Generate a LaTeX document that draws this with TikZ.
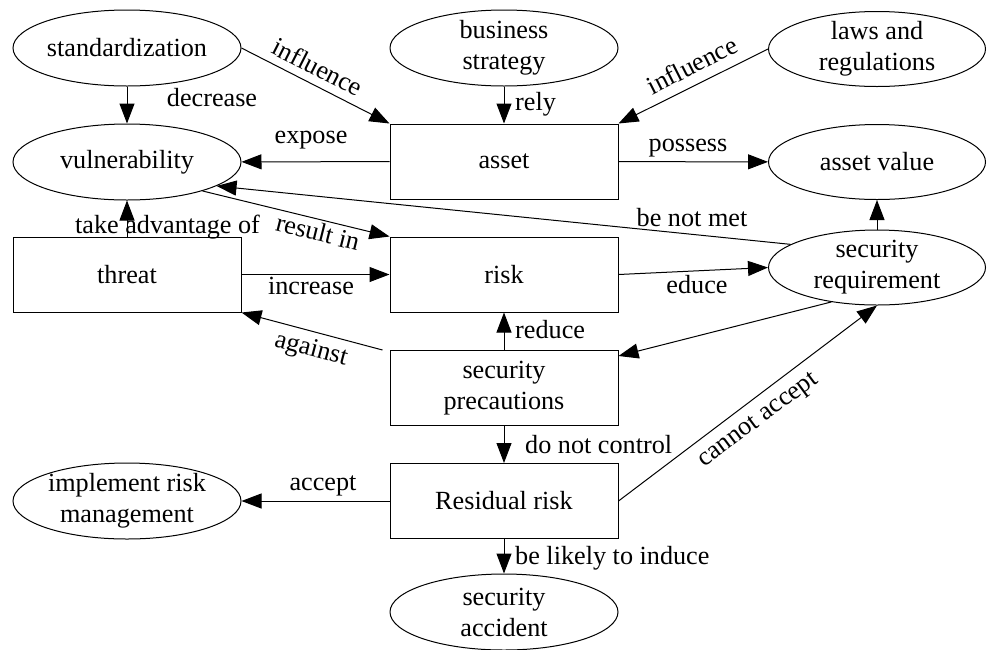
\documentclass[tikz,border=0pt]{standalone}
\usepackage{fontspec}
\setmainfont{Liberation Serif}
\usetikzlibrary{shapes.geometric,arrows.meta}
\begin{document}
\begin{tikzpicture}[x=1pt,y=-1pt,
  every node/.style={font=\fontsize{26.2}{31}\selectfont},
  ell/.style={draw, ellipse, minimum width=228pt, minimum height=76pt, inner sep=0pt, line width=1pt},
  ellr/.style={ell, minimum width=217pt, minimum height=75pt},
  txt/.style={align=center, inner sep=0pt},
  box/.style={draw, rectangle, minimum width=228pt, minimum height=75pt, inner sep=0pt, align=center, line width=1pt},
  arr/.style={-{Triangle[length=20pt,width=15pt]}, line width=1pt},
  lab/.style={inner sep=0pt}
]
\useasboundingbox (0,0) rectangle (987,649);
% ellipses (shapes) and their texts
\node[ell] (std) at (127,48) {};
\node[txt] (stdt) at (std.center) {standardization};
\node[ell] (bus) at (504,48) {};
\node[txt] (bust) at (bus.center) {business\\strategy};
\node[ellr] (laws) at (877,49) {};
\node[txt] (lawst) at (laws.center) {laws and\\regulations};
\node[ell] (vul) at (127,162) {};
\node[txt] (vult) at (vul.center) {vulnerability};
\node[ellr] (val) at (877,162) {};
\node[txt] (valt) at (val.center) {asset value};
\node[ellr] (sreq) at (877,267.5) {};
\node[txt] (sreqt) at (sreq.center) {security\\requirement};
\node[ell] (impl) at (127,501) {};
\node[txt] (implt) at (impl.center) {implement risk\\management};
\node[ell] (acc) at (504,612) {};
\node[txt] (acct) at (acc.center) {security\\accident};
% boxes
\node[box] (asset) at (504,161.5) {asset};
\node[box] (threat) at (127,274.5) {threat};
\node[box] (risk) at (504,274.5) {risk};
\node[box] (prec) at (504,388) {security\\precautions};
\node[box] (res) at (504,501) {Residual risk};
% connectors
\draw[arr] (std) -- (vul);
\draw[arr] (std.east) -- (asset.north west);
\draw[arr] (bus) -- (asset);
\draw[arr] (laws.west) -- (asset.north east);
\draw[arr] (asset) -- (vul);
\draw[arr] (asset) -- (val);
\draw[arr] (sreq.165) -- (vul.-15);
\draw[arr] (vul.-21) -- (risk.north west);
\draw[arr] (threat) -- (vul);
\draw[arr] (threat) -- (risk);
\draw[arr] (risk.east) -- (sreq.west);
\draw[arr] (prec) -- (risk);
\draw[arr] ([xshift=-7pt]prec.north west) -- (threat.south east);
\draw[arr] (sreq.217) -- ([yshift=-6pt]prec.north east);
\draw[arr] (prec) -- (res);
\draw[arr] (res.east) -- (sreq.south);
\draw[arr] (res) -- (impl);
\draw[arr] (res) -- (acc);
\draw[arr] (sreq) -- (val);
% labels
\node[lab, anchor=base] (l1) at (212,106) {decrease};
\node[lab, rotate=-27] (l2) at (318,67) {influence};
\node[lab, anchor=base west] (l3) at (515,110) {rely};
\node[lab, rotate=27] (l4) at (692,65) {influence};
\node[lab, anchor=base] (l5) at (311,143) {expose};
\node[lab, anchor=base] (l6) at (688,151) {possess};
\node[lab, anchor=base] (l7) at (692,226) {be not met};
\node[lab, anchor=base] (l8) at (167.5,233) {take advantage of};
\node[lab, rotate=-14] (l9) at (318,232) {result in};
\node[lab, anchor=base] (l10) at (311,294) {increase};
\node[lab, anchor=base] (l11) at (697,293) {educe};
\node[lab, anchor=base west] (l12) at (515,338) {reduce};
\node[lab, rotate=-15] (l13) at (311,350) {against};
\node[lab, anchor=base west] (l14) at (525,453) {do not control};
\node[lab, anchor=base west] (l15) at (515,564) {be likely to induce};
\node[lab, anchor=base] (l16) at (323,490) {accept};
\node[lab, rotate=36.6] (l17) at (759,421) {cannot accept};
\end{tikzpicture}
\end{document}
